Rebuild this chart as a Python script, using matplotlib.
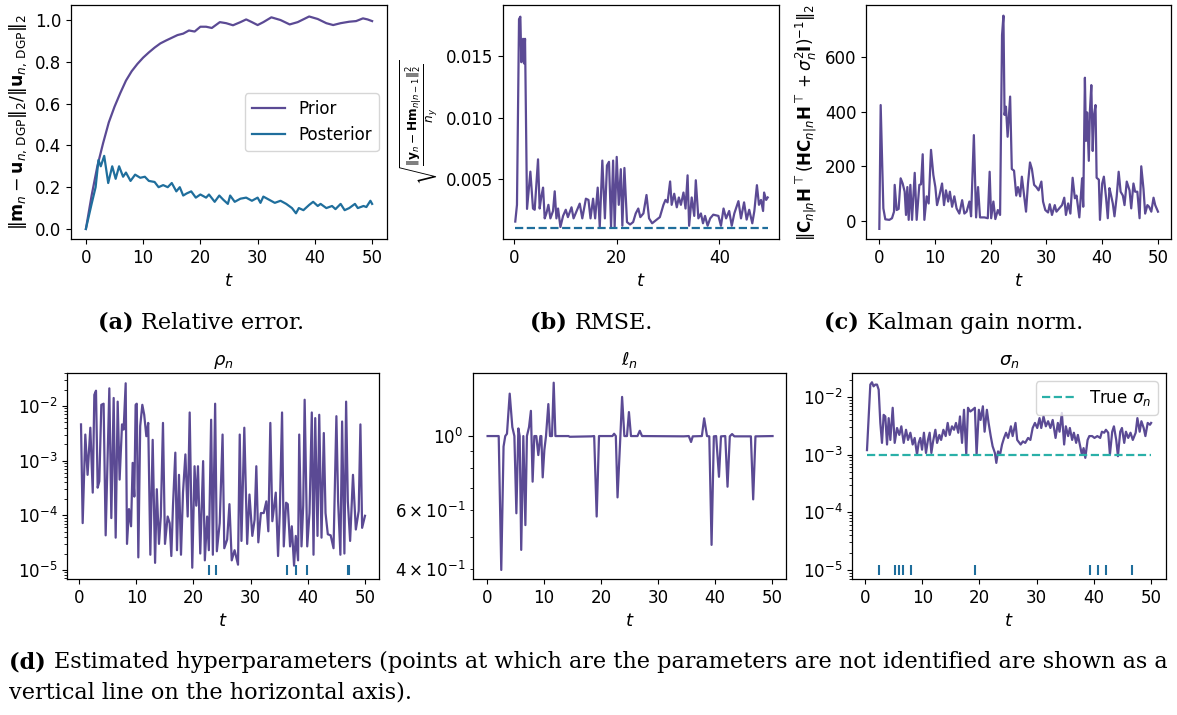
import numpy as np
import matplotlib
matplotlib.use('Agg')
import matplotlib.pyplot as plt

# ---------------- data ----------------
t_prior = [0, 1, 2, 3, 4, 5, 6, 7, 8, 9, 10, 11, 12, 13, 14, 15, 16, 17, 18, 19, 20, 21, 22,
           23.4, 24.5, 25.7, 27, 28, 29, 30, 31, 32.4, 34, 35.6, 37, 39, 40.5, 42, 43.2, 44.5, 46,
           47.2, 48.4, 49.2, 50]
rel_err_prior = [0.0, 0.16, 0.30, 0.41, 0.51, 0.585, 0.65, 0.71, 0.755, 0.79, 0.82, 0.845,
                 0.868, 0.888, 0.902, 0.915, 0.928, 0.935, 0.95, 0.945, 0.968, 0.968, 0.962,
                 0.99, 0.985, 0.975, 0.99, 1.003, 0.99, 0.976, 0.99, 1.013, 1.0, 0.979, 0.99,
                 1.017, 1.005, 0.985, 0.976, 0.985, 0.992, 0.995, 1.008, 1.003, 0.995]

t_post = [0, 1.0, 1.7, 2.2, 2.6, 3.2, 3.9, 4.6, 5.2, 5.8, 6.5, 7.0, 7.8, 8.6, 9.5, 10.3, 11, 12,
          12.7, 13.5, 14.3, 15, 15.8, 16.4, 17, 17.6, 18.4, 19.2, 20, 21, 21.5, 22.5, 23.3, 24,
          24.8, 25.2, 26, 27, 28, 29, 30, 30.5, 31, 32, 33, 34, 35, 36, 36.7, 37.2, 38, 39, 39.7,
          40.5, 41, 42, 43, 43.6, 44.5, 45.2, 46, 47, 47.5, 48.5, 49, 49.7, 50]
rel_err_post = [0.0, 0.12, 0.20, 0.33, 0.30, 0.35, 0.22, 0.30, 0.24, 0.30, 0.25, 0.27, 0.23, 0.26,
                0.245, 0.25, 0.23, 0.225, 0.20, 0.21, 0.20, 0.22, 0.18, 0.20, 0.16, 0.17, 0.18,
                0.15, 0.165, 0.15, 0.165, 0.13, 0.16, 0.14, 0.12, 0.16, 0.13, 0.145, 0.15, 0.135,
                0.15, 0.125, 0.155, 0.14, 0.125, 0.135, 0.12, 0.10, 0.075, 0.10, 0.09, 0.115,
                0.13, 0.11, 0.12, 0.10, 0.11, 0.095, 0.12, 0.09, 0.10, 0.12, 0.10, 0.11, 0.105,
                0.135, 0.12]

t_rmse = [0.25, 0.58, 0.98, 1.24, 1.43, 1.76, 1.95, 2.15, 2.54, 3.19, 3.7, 4.03, 4.68, 5.0, 5.33,
          5.66, 5.98, 6.31, 6.7, 7.09, 7.6, 7.93, 8.26, 8.58, 9.04, 9.56, 10.08, 10.5, 11.2, 11.6,
          12.2, 12.8, 13.3, 14.0, 14.5, 14.9, 15.4, 15.8, 16.3, 16.7, 17.2, 17.7, 18.1, 18.5,
          18.9, 19.3, 19.6, 20.0, 20.4, 20.8, 21.1, 21.5, 22.0, 22.6, 23.2, 23.7, 24.2, 24.6,
          25.2, 25.8, 26.3, 26.9, 27.8, 28.4, 29.1, 29.5, 29.9, 30.4, 30.7, 31.2, 31.7, 32.1,
          32.5, 33.0, 33.4, 33.8, 34.1, 34.6, 35.1, 35.4, 35.9, 36.4, 36.8, 37.2, 37.7, 38.2,
          38.8, 39.8, 40.3, 40.8, 41.3, 41.9, 42.4, 42.9, 43.7, 44.2, 44.8, 45.3, 45.8, 46.4,
          46.8, 47.3, 47.7, 48.1, 48.5, 48.7, 49.1, 49.4]
rmse = [0.00154, 0.0029, 0.0180, 0.0182, 0.0145, 0.0164, 0.0144, 0.0164, 0.00257, 0.0056,
        0.0026, 0.0025, 0.0066, 0.0026, 0.0036, 0.0043, 0.0018, 0.0022, 0.0029, 0.0018, 0.0024,
        0.0040, 0.0018, 0.0026, 0.0011, 0.0020, 0.0025, 0.0019, 0.0027, 0.0018, 0.0024, 0.0030,
        0.0018, 0.0034, 0.0033, 0.0018, 0.0034, 0.0018, 0.0043, 0.0011, 0.0065, 0.0018, 0.0061,
        0.0064, 0.0011, 0.0065, 0.0011, 0.0068, 0.0029, 0.0058, 0.0012, 0.0059, 0.0015, 0.0013,
        0.0015, 0.0022, 0.0026, 0.0019, 0.0022, 0.0037, 0.0018, 0.0014, 0.0017, 0.0019, 0.0029,
        0.0033, 0.0031, 0.0048, 0.0029, 0.0038, 0.0027, 0.0035, 0.0029, 0.0039, 0.0026, 0.0053,
        0.0012, 0.0035, 0.0020, 0.0049, 0.0018, 0.0022, 0.0014, 0.0020, 0.0012, 0.0018, 0.0021,
        0.0020, 0.0012, 0.0026, 0.0018, 0.0024, 0.0012, 0.0022, 0.0032, 0.0018, 0.0031, 0.0017,
        0.0025, 0.0014, 0.0024, 0.0045, 0.0029, 0.0033, 0.0024, 0.0039, 0.0033, 0.0035]
rmse_true = 0.001

t_gain = [0.06, 0.3, 0.78, 1.13, 1.85, 2.33, 2.69, 2.81, 3.16, 3.52, 3.88, 4.24, 4.6, 4.84, 5.08,
          5.32, 5.62, 5.92, 6.4, 6.75, 7.23, 7.53, 7.83, 8.13, 8.54, 8.9, 9.32, 9.74, 10.1, 10.4,
          10.8, 11.3, 11.65, 12.0, 12.4, 12.7, 13.1, 13.5, 13.9, 14.4, 14.9, 15.3, 15.7, 16.2,
          16.5, 17.0, 17.4, 17.75, 18.1, 18.9, 19.5, 19.83, 20.1, 20.5, 20.85, 21.3, 21.7, 22.05,
          22.3, 22.5, 22.75, 23.05, 23.5, 23.8, 24.2, 24.6, 24.9, 25.3, 25.6, 26.0, 26.35, 26.7,
          27.06, 27.4, 27.8, 28.2, 28.6, 29.1, 29.4, 29.8, 30.3, 30.6, 31.0, 31.5, 31.8, 32.3,
          32.8, 33.2, 33.5, 33.9, 34.3, 34.7, 35.1, 35.4, 35.9, 36.4, 36.6, 36.9, 37.1, 37.3,
          37.6, 37.8, 38.05, 38.3, 38.5, 38.8, 39.0, 39.4, 39.6, 40.0, 40.3, 40.7, 41.0, 41.3,
          41.6, 41.9, 42.2, 42.6, 42.95, 43.3, 43.7, 44.0, 44.4, 44.9, 45.2, 45.6, 45.9, 46.3,
          46.7, 47.0, 47.4, 47.7, 48.1, 48.4, 48.8, 49.2, 49.5, 50.0]
gain_norm = [-29, 424, 46, 6, 4, 10, 34, 132, 40, 44, 156, 137, 107, 22, 124, 4, 132, 4, 176, 4,
             132, 134, 244, 4, 90, 64, 260, 168, 124, 58, 90, 137, 58, 112, 71, 107, 52, 90, 46,
             27, 76, 27, 34, 71, 17, 314, 13, 124, 13, 13, 10, 180, 10, 71, 7, 40, 22, 680, 751,
             388, 418, 308, 455, 190, 184, 93, 124, 90, 162, 93, 34, 137, 214, 190, 132, 124, 112,
             144, 71, 40, 31, 61, 22, 58, 34, 46, 58, 85, 22, 64, 27, 158, 83, 93, 13, 156, 52,
             524, 293, 397, 220, 403, 497, 256, 384, 424, 158, 151, 4, 137, 162, 83, 10, 120, 93,
             64, 17, 90, 180, 107, 93, 58, 144, 112, 46, 137, 107, 107, 10, 200, 117, 27, 58, 52,
             34, 85, 58, 34]

t_rho = [0.35, 0.64, 1.1, 1.5, 1.98, 2.4, 2.68, 2.97, 3.26, 3.55, 3.9, 4.3, 4.66, 5.3, 5.65, 6.06,
         6.41, 6.76, 7.1, 7.52, 7.8, 8.16, 8.39, 8.74, 9.1, 9.38, 9.67, 9.9, 10.1, 10.37, 10.7,
         11.07, 11.4, 11.77, 12.1, 12.47, 12.88, 13.3, 13.6, 13.98, 14.3, 14.68, 15.03, 15.5,
         15.85, 16.14, 16.43, 16.84, 17.13, 17.48, 17.83, 18.18, 18.6, 19.0, 19.35, 19.8, 20.2,
         20.5, 20.8, 21.2, 21.7, 22.0, 22.4, 22.7, 23.1, 23.4, 23.8, 24.1, 24.6, 25.1, 25.4,
         25.9, 26.3, 26.7, 27.2, 27.5, 27.8, 28.1, 28.4, 28.9, 29.4, 29.8, 30.3, 30.7, 31.0,
         31.35, 31.8, 32.3, 32.75, 33.1, 33.45, 33.8, 34.4, 34.8, 35.1, 35.5, 35.8, 36.2, 36.5,
         36.9, 37.2, 37.6, 37.9, 38.3, 38.5, 38.9, 39.2, 39.45, 39.9, 40.3, 40.7, 41.0, 41.3,
         41.7, 42.0, 42.4, 42.8, 43.1, 43.5, 44.0, 44.5, 45.0, 45.3, 45.7, 46.0, 46.4, 46.7,
         47.0, 47.4, 47.9, 48.4, 48.9, 49.2, 49.5, 50.0]
rho = [4.6e-3, 7.2e-5, 3.0e-3, 5.5e-4, 4.0e-3, 2.6e-4, 1.6e-2, 1.9e-2, 3.2e-4, 4.2e-4, 1.05e-2,
       1.1e-2, 4.3e-5, 2.1e-2, 8.9e-5, 1.4e-2, 3.9e-5, 1.2e-2, 4.5e-4, 4.6e-3, 3.7e-3, 2.6e-2,
       3.0e-5, 1.3e-4, 6.3e-5, 9.1e-4, 2.2e-4, 1.05e-2, 1.1e-2, 1.7e-5, 4.3e-3, 1.05e-2, 6.9e-3,
       2.8e-3, 4.9e-3, 1.9e-5, 2.4e-3, 1.35e-5, 3.0e-4, 3.0e-5, 9.5e-5, 4.9e-3, 3.0e-5, 9.5e-5,
       7.2e-5, 1.8e-5, 1.5e-4, 1.4e-3, 2.3e-5, 5.5e-4, 1.9e-5, 2.6e-4, 1.3e-3, 9.5e-5, 7.6e-3,
       1.1e-5, 7.9e-4, 1.5e-4, 7.9e-4, 2.0e-5, 9.8e-4, 1.5e-5, 9.5e-5, 2.3e-5, 5.6e-3, 1.9e-5,
       1.1e-2, 2.2e-5, 7.2e-5, 3.0e-3, 2.5e-5, 3.6e-5, 1.6e-4, 1.5e-5, 2.3e-5, 1.7e-5, 1.25e-5,
       3.0e-3, 3.4e-5, 4.0e-3, 3.0e-5, 2.4e-4, 4.2e-5, 8.3e-5, 7.9e-4, 3.2e-5, 1.1e-4, 1.1e-4,
       1.8e-4, 5.1e-5, 4.9e-3, 7.8e-5, 2.6e-4, 1.8e-5, 1.1e-4, 7.6e-3, 2.7e-5, 1.7e-4, 1.6e-4,
       2.7e-5, 6.3e-5, 1.2e-5, 4.2e-5, 1.5e-5, 3.0e-3, 2.7e-5, 1.5e-4, 1.3e-2, 2.7e-5, 1.1e-4,
       7.6e-3, 1.9e-5, 6.0e-3, 4.2e-5, 6.9e-3, 3.9e-5, 3.2e-3, 1.1e-4, 4.5e-5, 4.3e-5, 2.5e-5,
       6.5e-3, 1.8e-4, 1.9e-5, 5.2e-3, 2.0e-5, 1.2e-2, 1.8e-4, 3.4e-5, 5.5e-4, 5.5e-5, 1.2e-4,
       4.6e-3, 5.9e-5, 9.8e-5]
t_rho_unident = [22.8, 23.9, 36.3, 38.0, 39.8, 47.1, 47.2]

t_ell = [0.1, 2.05, 2.5, 2.9, 3.2, 3.5, 3.98, 4.44, 4.8, 5.15, 5.5, 5.73, 6.0, 6.37, 6.73, 7.0,
         7.37, 7.7, 8.0, 8.3, 8.65, 9.0, 9.36, 9.53, 9.77, 10.06, 10.35, 10.76, 11.05, 11.4,
         11.7, 12.0, 14.3, 14.5, 18.3, 18.8, 19.24, 19.65, 22.0, 22.3, 22.6, 22.9, 23.4, 23.7,
         24.1, 24.56, 24.9, 25.26, 26.4, 26.8, 27.2, 34.5, 35.4, 35.8, 36.1, 37.7, 38.1, 38.6,
         39.0, 39.4, 39.8, 40.2, 40.7, 41.05, 41.8, 42.2, 42.6, 43.0, 43.4, 45.9, 46.3, 46.7,
         47.1, 50.1]
ell = [1.0, 1.0, 0.397, 0.93, 1.0, 1.016, 1.34, 1.064, 1.0, 0.587, 1.054, 1.0, 0.456, 1.0,
       0.541, 1.0, 1.064, 1.19, 0.73, 1.0, 1.0, 0.877, 1.0, 1.0, 0.752, 0.908, 1.0, 1.247, 1.0,
       1.0, 1.445, 1.0, 1.0, 0.995, 0.998, 1.0, 0.574, 1.0, 1.0, 1.016, 1.0, 0.655, 1.0, 1.31,
       1.0, 1.0, 1.18, 1.0, 1.0, 1.037, 1.0, 0.998, 1.0, 0.96, 0.998, 1.0, 1.13, 1.0, 0.998,
       0.472, 0.998, 1.0, 0.755, 0.998, 1.0, 0.705, 0.998, 1.014, 0.998, 0.998, 0.998, 0.646,
       0.998, 1.0]

t_sigma = [0.35, 0.93, 1.22, 1.5, 1.8, 2.1, 2.39, 2.68, 2.97, 3.26, 3.55, 3.85, 4.14, 4.43, 4.84,
           5.19, 5.6, 6.0, 6.35, 6.76, 7.17, 7.52, 7.93, 8.33, 8.68, 9.09, 9.38, 9.67, 9.97,
           10.3, 10.66, 11.0, 11.3, 11.6, 11.9, 12.3, 12.6, 13.0, 13.3, 13.7, 14.1, 14.45, 14.8,
           15.2, 15.56, 15.9, 16.3, 16.6, 16.96, 17.3, 17.7, 18.0, 18.4, 18.8, 19.2, 19.5, 19.9,
           20.2, 20.6, 20.9, 21.3, 21.6, 21.97, 22.3, 22.7, 22.95, 23.25, 23.6, 23.95, 24.3,
           24.65, 25.0, 25.5, 25.8, 26.3, 26.6, 27.2, 27.6, 28.0, 28.5, 28.9, 29.3, 29.7, 30.1,
           30.5, 30.8, 31.2, 31.6, 32.0, 32.4, 32.8, 33.3, 33.7, 34.0, 34.4, 34.8, 35.1, 35.5,
           35.8, 36.2, 36.5, 36.9, 37.2, 37.6, 37.9, 38.2, 38.5, 38.9, 39.2, 39.7, 40.1, 40.6,
           41.1, 41.4, 41.8, 42.1, 42.5, 42.8, 43.2, 43.5, 43.9, 44.2, 44.6, 44.9, 45.3, 45.6,
           46.0, 46.4, 46.8, 47.3, 47.6, 48.0, 48.3, 48.7, 49.0, 49.4, 49.8, 50.0]
sigma = [1.2e-3, 1.64e-2, 1.8e-2, 1.53e-2, 1.64e-2, 1.64e-2, 1.34e-2, 3.55e-3, 1.6e-3, 4.9e-3,
         4.6e-3, 1.5e-3, 4.3e-3, 1.8e-3, 6.5e-3, 1.6e-3, 2.9e-3, 2.2e-3, 3.1e-3, 1.6e-3, 2.7e-3,
         1.8e-3, 2.4e-3, 1.5e-3, 1.95e-3, 1.0e-3, 1.6e-3, 1.95e-3, 1.22e-3, 2.4e-3, 1.07e-3,
         1.8e-3, 2.4e-3, 1.07e-3, 1.7e-3, 2.7e-3, 1.6e-3, 2.2e-3, 1.8e-3, 2.7e-3, 2.1e-3,
         3.55e-3, 2.2e-3, 3.1e-3, 2.7e-3, 3.55e-3, 2.4e-3, 4.6e-3, 1.6e-3, 6.0e-3, 1.0e-3,
         6.5e-3, 5.6e-3, 6.0e-3, 6.5e-3, 1.0e-3, 6.0e-3, 4.0e-3, 6.9e-3, 2.5e-3, 6.0e-3,
         3.55e-3, 2.1e-3, 1.4e-3, 1.07e-3, 7.2e-4, 1.14e-3, 1.0e-3, 1.5e-3, 1.95e-3, 2.4e-3,
         1.95e-3, 3.1e-3, 2.1e-3, 3.55e-3, 1.8e-3, 1.5e-3, 1.7e-3, 1.6e-3, 1.95e-3, 1.8e-3,
         2.9e-3, 3.55e-3, 2.9e-3, 4.3e-3, 2.9e-3, 4.6e-3, 3.1e-3, 3.8e-3, 2.9e-3, 4.0e-3,
         1.95e-3, 3.55e-3, 2.5e-3, 5.3e-3, 1.5e-3, 3.1e-3, 2.1e-3, 2.9e-3, 1.8e-3, 2.4e-3,
         1.6e-3, 2.2e-3, 1.4e-3, 1.0e-3, 1.3e-3, 8.8e-4, 1.8e-3, 2.1e-3, 2.1e-3, 1.95e-3,
         2.1e-3, 1.95e-3, 2.5e-3, 2.4e-3, 2.7e-3, 2.4e-3, 1.0e-3, 2.5e-3, 3.1e-3, 1.8e-3,
         9.4e-4, 2.5e-3, 2.9e-3, 1.6e-3, 2.5e-3, 1.95e-3, 2.4e-3, 1.8e-3, 2.4e-3, 4.3e-3,
         2.5e-3, 3.8e-3, 2.9e-3, 2.1e-3, 3.55e-3, 3.3e-3, 3.55e-3]
sigma_true = 1e-3
t_sigma_unident = [2.5, 5.25, 6.0, 6.7, 8.0, 19.2, 39.4, 40.7, 42.1, 46.6]

# ---------------- style ----------------
purple = '#5b4a94'
blue = '#1f6e9c'
teal = '#2ab0a8'

plt.rcParams['font.family'] = ['DejaVu Sans']
plt.rcParams['mathtext.fontset'] = 'dejavusans'
plt.rcParams['font.size'] = 12
plt.rcParams['axes.linewidth'] = 0.9

W, H = 1177, 715
fig = plt.figure(figsize=(W / 100, H / 100), dpi=100)


def add_ax(l, r, t, b):
    return fig.add_axes([l / W, 1 - b / H, (r - l) / W, (b - t) / H])


lw = 1.6
lab_fs = 13

# (a)
ax = add_ax(71, 387, 5, 239)
ax.plot(t_prior, rel_err_prior, color=purple, lw=lw, label='Prior')
ax.plot(t_post, rel_err_post, color=blue, lw=lw, label='Posterior')
ax.set_xlim(-2.6, 52.6)
ax.set_ylim(-0.048, 1.072)
ax.set_xticks([0, 10, 20, 30, 40, 50])
ax.set_yticks([0.0, 0.2, 0.4, 0.6, 0.8, 1.0])
ax.set_xlabel('$t$', fontsize=lab_fs)
ax.set_ylabel(r'$\Vert\mathbf{m}_n - \mathbf{u}_{n,\,\mathrm{DGP}}\Vert_2/\Vert\mathbf{u}_{n,\,\mathrm{DGP}}\Vert_2$',
              fontsize=12.5)
ax.legend(loc='center right', fontsize=12)

# (b)
ax = add_ax(503, 779, 5, 239)
ax.plot(t_rmse, rmse, color=purple, lw=lw)
ax.plot([t_rmse[0], t_rmse[-1]], [rmse_true, rmse_true], color=blue, lw=lw, ls='--')
ax.set_xlim(-2.14, 51.6)
ax.set_ylim(0.000122, 0.01915)
ax.set_xticks([0, 20, 40])
ax.set_yticks([0.005, 0.010, 0.015])
ax.set_xlabel('$t$', fontsize=lab_fs)
ax.set_ylabel(r'$\sqrt{\frac{\Vert\mathbf{y}_n - \mathbf{H}\mathbf{m}_{n|n-1}\Vert_2^2}{n_y}}$',
              fontsize=12.5)

# (c)
ax = add_ax(866, 1171, 5, 239)
ax.plot(t_gain, gain_norm, color=purple, lw=lw)
ax.set_xlim(-2.33, 52.33)
ax.set_ylim(-66, 790)
ax.set_xticks([0, 10, 20, 30, 40, 50])
ax.set_yticks([0, 200, 400, 600])
ax.set_xlabel('$t$', fontsize=lab_fs)
ax.set_ylabel(r'$\Vert\mathbf{C}_{n|n}\mathbf{H}^\top(\mathbf{H}\mathbf{C}_{n|n}\mathbf{H}^\top + \sigma_n^2\mathbf{I})^{-1}\Vert_2$',
              fontsize=12)

# (d1) rho
ax = add_ax(67, 379, 373, 579)
ax.set_yscale('log')
ax.plot(t_rho, rho, color=purple, lw=lw)
ax.plot(t_rho_unident, [1e-5] * len(t_rho_unident), '|', color=blue, ms=7, mew=1.5)
ax.set_xlim(-2.1, 52.45)
ax.set_ylim(10 ** -5.165, 10 ** -1.397)
ax.set_xticks([0, 10, 20, 30, 40, 50])
ax.set_xlabel('$t$', fontsize=lab_fs)
ax.set_title(r'$\rho_n$', fontsize=lab_fs)

# (d2) ell
ax = add_ax(473, 786, 373, 579)
ax.set_yscale('log')
ax.plot(t_ell, ell, color=purple, lw=lw)
ax.set_xlim(-2.46, 52.46)
ax.set_ylim(0.373, 1.545)
ax.set_xticks([0, 10, 20, 30, 40, 50])
ax.set_xlabel('$t$', fontsize=lab_fs)
ax.set_title(r'$\ell_n$', fontsize=lab_fs)

# (d3) sigma
ax = add_ax(852, 1166, 373, 579)
ax.set_yscale('log')
ax.plot(t_sigma, sigma, color=purple, lw=lw)
ax.plot([t_sigma[0], t_sigma[-1]], [sigma_true, sigma_true], color=teal, lw=lw, ls='--',
        label=r'True $\sigma_n$')
ax.plot(t_sigma_unident, [1e-5] * len(t_sigma_unident), '|', color=blue, ms=7, mew=1.5)
ax.set_xlim(-2.27, 52.6)
ax.set_ylim(10 ** -5.156, 10 ** -1.584)
ax.set_xticks([0, 10, 20, 30, 40, 50])
ax.set_xlabel('$t$', fontsize=lab_fs)
ax.set_title(r'$\sigma_n$', fontsize=lab_fs)
ax.legend(loc='upper right', fontsize=12)

# ---------------- captions ----------------
cap_family = ['DejaVu Serif']
renderer = fig.canvas.get_renderer()

# fit caption font size so that the long line spans the same width as the reference
probe = fig.text(0, 0, '(d) Estimated hyperparameters (points at which are the parameters are '
                 'not identified are shown as a', family=cap_family, fontsize=17)
w17 = probe.get_window_extent(renderer).width
probe.remove()
cap_fs = 17 * 1157 / w17


def caption(x, y, bold, normal):
    tb = fig.text(x / W, 1 - y / H, bold + ' ', ha='left', va='center', fontweight='bold',
                  family=cap_family, fontsize=cap_fs)
    x1 = tb.get_window_extent(renderer).x1
    fig.text(x1 / W, 1 - y / H, normal, ha='left', va='center', family=cap_family,
             fontsize=cap_fs)


caption(98, 323, '(a)', 'Relative error.')
caption(530, 323, '(b)', 'RMSE.')
caption(824, 323, '(c)', 'Kalman gain norm.')
caption(9, 662, '(d)',
        'Estimated hyperparameters (points at which are the parameters are not identified are shown as a')
fig.text(9 / W, 1 - 692 / H, 'vertical line on the horizontal axis).', ha='left', va='center',
         family=cap_family, fontsize=cap_fs)

fig.savefig('out.png', dpi=100)
